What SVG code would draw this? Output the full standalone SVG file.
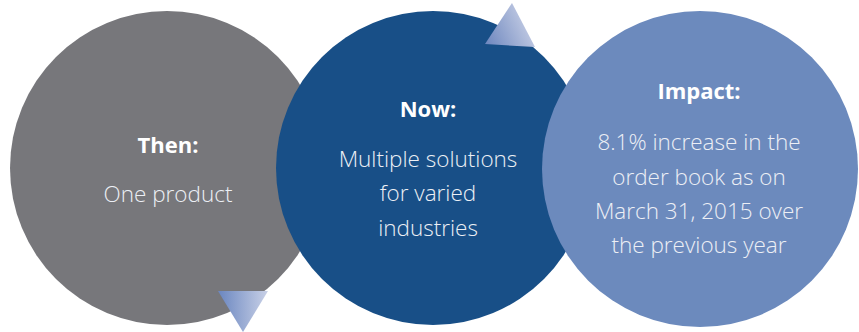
<svg xmlns="http://www.w3.org/2000/svg" width="859" height="332" viewBox="0 0 859 332">
<defs>
<linearGradient id="gDown" x1="0" y1="0" x2="1" y2="0">
<stop offset="0" stop-color="#6a86c0"/>
<stop offset="1" stop-color="#c9d1e7"/>
</linearGradient>
<linearGradient id="gUp" x1="0" y1="1" x2="1" y2="0.6">
<stop offset="0" stop-color="#6a84bd"/>
<stop offset="1" stop-color="#c6cee5"/>
</linearGradient>
<style>
.title{font-family:"Open Sans","Noto Sans","Liberation Sans",sans-serif;font-weight:700;font-size:22px;fill:#ffffff;text-anchor:middle}
.body{font-family:"Open Sans","Noto Sans","Liberation Sans",sans-serif;font-weight:300;font-size:22.5px;fill:#eceff5;text-anchor:middle}
</style>
</defs>
<rect width="859" height="332" fill="#ffffff"/>
<g id="then">
<circle cx="167" cy="168" r="157" fill="#77777b"/>
<text class="title" x="168" y="153">Then:</text>
<text class="body" x="168" y="202">One product</text>
</g>
<g id="now">
<circle cx="433" cy="168" r="157" fill="#184f87"/>
<text class="title" x="428" y="117">Now:</text>
<text class="body" x="428" y="167">Multiple solutions</text>
<text class="body" x="428" y="201">for varied</text>
<text class="body" x="428" y="236">industries</text>
</g>
<g id="impact">
<circle cx="700" cy="169" r="158" fill="#6c8abd"/>
<text class="title" x="699" y="99">Impact:</text>
<text class="body" x="699" y="150">8.1% increase in the</text>
<text class="body" x="699" y="185">order book as on</text>
<text class="body" x="699" y="219">March 31, 2015 over</text>
<text class="body" x="699" y="253">the previous year</text>
</g>
<g id="connectors">
<polygon points="218,291 268,291 243,332" fill="url(#gDown)"/>
<polygon points="512,3 485,44 535,47" fill="url(#gUp)"/>
</g>
</svg>
